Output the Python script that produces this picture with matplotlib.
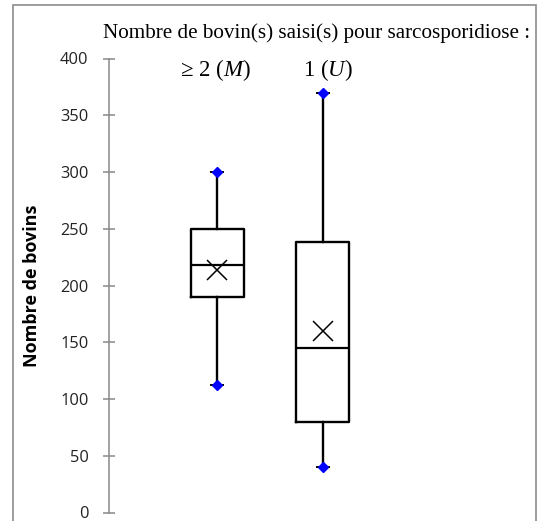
import matplotlib
matplotlib.use("Agg")
import matplotlib.pyplot as plt
from matplotlib.patches import Rectangle
from matplotlib.transforms import blended_transform_factory

# Summary statistics per group (number of cattle)
groups = ["\u2265 2 ($\\mathit{M}$)", "1 ($\\mathit{U}$)"]
whisker_low = [112, 40]
q1 = [190, 80]
median = [218, 145]
q3 = [250, 238]
whisker_high = [300, 370]
mean = [214, 160]
y_ticks = [0, 50, 100, 150, 200, 250, 300, 350, 400]

plt.rcParams["mathtext.fontset"] = "custom"
plt.rcParams["mathtext.rm"] = "Liberation Serif"
plt.rcParams["mathtext.it"] = "Liberation Serif:italic"

W, H = 537, 521
fig = plt.figure(figsize=(W / 100, H / 100), dpi=100)
ax = fig.add_axes([109 / W, 8.5 / H, 421 / W, 454 / H])

positions = [1, 2]
stats = []
for i in range(len(groups)):
    stats.append(dict(whislo=whisker_low[i], q1=q1[i], med=median[i], q3=q3[i],
                      whishi=whisker_high[i], mean=mean[i], fliers=[]))

ax.bxp(stats, positions=positions, widths=0.5, showmeans=True, showfliers=False,
       capwidths=0.12,
       boxprops=dict(color="black", linewidth=1.7),
       whiskerprops=dict(color="black", linewidth=1.7),
       capprops=dict(color="black", linewidth=1.4),
       medianprops=dict(color="black", linewidth=1.6),
       meanprops=dict(marker="x", markersize=14.5, markeredgecolor="black",
                      markeredgewidth=1.1, markerfacecolor="none"))

# whisker end points
for i, p in enumerate(positions):
    ax.plot([p, p], [whisker_low[i], whisker_high[i]], linestyle="none",
            marker="D", markersize=5.5, color="#0000ff", zorder=5)

ax.set_xlim(-0.019, 3.953)
ax.set_ylim(0, 400)
ax.set_yticks(y_ticks)
ax.set_xticks([])
for s in ["top", "right", "bottom"]:
    ax.spines[s].set_visible(False)
ax.spines["left"].set_color("#898989")
ax.spines["left"].set_linewidth(1.1)
ax.tick_params(axis="y", direction="inout", length=8.6, width=1.1, color="#898989",
               pad=10.5, labelsize=11.8, labelcolor="#222222")
for lab in ax.get_yticklabels():
    lab.set_fontfamily("Open Sans")

# group labels above each box
tr = blended_transform_factory(ax.transData, fig.transFigure)
for p, g in zip([0.98, 2.05], groups):
    ax.text(p, 451 / H, g, transform=tr, ha="center", va="center",
            fontsize=16.5, family="Liberation Serif")

fig.text(316.5 / W, 483 / H, "Nombre de bovin(s) saisi(s) pour sarcosporidiose :",
         ha="center", va="baseline", fontsize=15.2, family="Liberation Serif")
fig.text(32.5 / W, 235.5 / H, "Nombre de bovins", rotation=90, ha="center",
         va="center", fontsize=13, fontweight="bold", family="Open Sans")

# frame around the chart area
fig.add_artist(Rectangle((13 / W, -0.05), 523 / W, 0.05 + 516 / H,
                         transform=fig.transFigure, fill=False,
                         edgecolor="#8c8c8c", linewidth=1.2))

fig.savefig("out.png", dpi=100)
